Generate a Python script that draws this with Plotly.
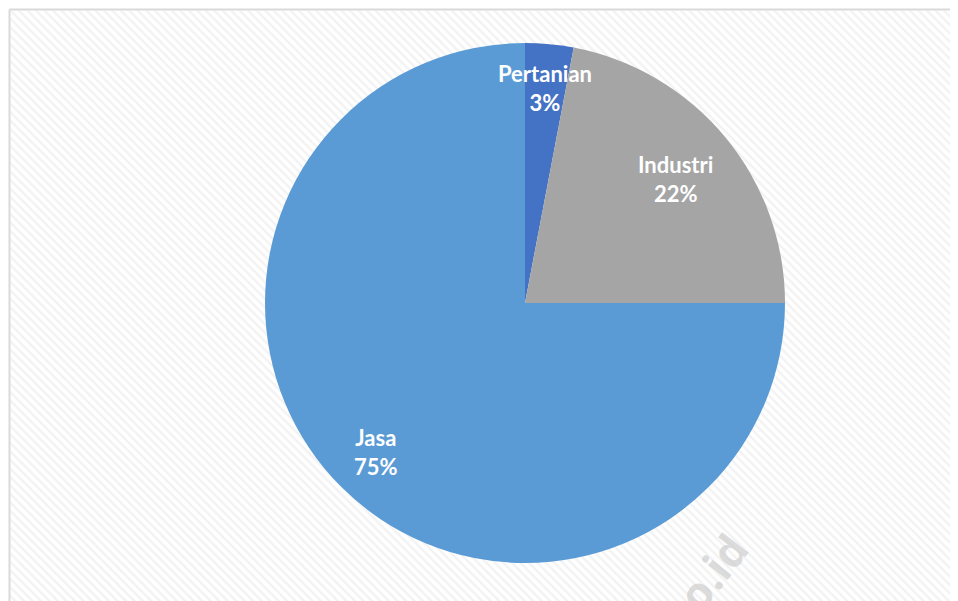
import math
import plotly.graph_objects as go

# page has an 8px body margin; figure sized to fit the window
OFF = 8
W, H = 958 - OFF, 601 - OFF
categories = ["Pertanian", "Industri", "Jasa"]
values = [3, 22, 75]
colors = ["#4472C4", "#A5A5A5", "#5B9BD5"]
label_radius = [0.83, 0.75, 0.81]

# pie geometry in figure pixels
cx, cy, R = 525 - OFF, 303 - OFF, 260
cy_up = H - cy

fig = go.Figure()

# hatched background
x0 = 2.5 / W
y1 = 1 - 2.5 / H
fig.add_trace(go.Scatter(
    x=[x0, 1.01, 1.01, x0, x0], y=[-0.01, -0.01, y1, y1, -0.01],
    mode="lines", fill="toself", line=dict(width=0),
    fillcolor="rgba(255,255,255,1)",
    fillpattern=dict(shape="\\", fgcolor="#e6e6e6", bgcolor="#ffffff", size=6, solidity=0.4),
    hoverinfo="skip", showlegend=False,
))

fig.add_trace(go.Pie(
    labels=categories, values=values, sort=False, direction="clockwise",
    rotation=0, marker=dict(colors=colors, line=dict(width=0)),
    textinfo="none", showlegend=False, hoverinfo="label+percent",
    domain=dict(x=[(cx - R) / W, (cx + R) / W], y=[(cy_up - R) / H, (cy_up + R) / H]),
))

# labels placed at the middle angle of each slice
total = sum(values)
cum = 0
annotations = []
for cat, v, rf in zip(categories, values, label_radius):
    mid = (cum + v / 2) / total * 2 * math.pi
    cum += v
    px = cx + rf * R * math.sin(mid)
    py = cy_up + rf * R * math.cos(mid)
    annotations.append(dict(
        x=px / W, y=py / H, xref="paper", yref="paper", showarrow=False,
        xanchor="center", yanchor="middle",
        text=f"<b>{cat}<br>{round(v / total * 100)}%</b>",
        font=dict(family="Lato, Open Sans, sans-serif", size=22, color="white"),
        align="center",
    ))

# watermark (partly cut at the bottom edge, as in the source)
annotations.append(dict(
    x=(712 - OFF) / W, y=(H - (572 - OFF)) / H, xref="paper", yref="paper", showarrow=False,
    xanchor="center", yanchor="middle",
    text="<b>o.id</b>", textangle=-52,
    font=dict(family="Open Sans, sans-serif", size=44, color="rgba(205,205,205,0.7)"),
))

shapes = []
# soft shadow around pie
for i, a in enumerate([0.025, 0.035, 0.045, 0.055, 0.065, 0.075]):
    r = R + 12 - i * 2
    shapes.append(dict(
        type="circle", xref="paper", yref="paper", layer="below",
        x0=(cx - r) / W, x1=(cx + r) / W, y0=(cy_up - r - 2) / H, y1=(cy_up + r - 2) / H,
        line=dict(width=0), fillcolor=f"rgba(80,80,80,{a})",
    ))
# border (left & top)
shapes.append(dict(type="line", xref="paper", yref="paper", x0=1.5 / W, x1=1.5 / W, y0=0, y1=1 - 1.5 / H,
                   line=dict(color="#d9d9d9", width=2)))
shapes.append(dict(type="line", xref="paper", yref="paper", x0=1.5 / W, x1=1, y0=1 - 1.5 / H, y1=1 - 1.5 / H,
                   line=dict(color="#d9d9d9", width=2)))

fig.update_layout(
    width=W, height=H, margin=dict(l=0, r=0, t=0, b=0),
    paper_bgcolor="white", plot_bgcolor="rgba(0,0,0,0)",
    xaxis=dict(range=[0, 1], domain=[0, 1], visible=False, fixedrange=True),
    yaxis=dict(range=[0, 1], domain=[0, 1], visible=False, fixedrange=True),
    annotations=annotations, shapes=shapes,
)

fig.write_html("out.html")
